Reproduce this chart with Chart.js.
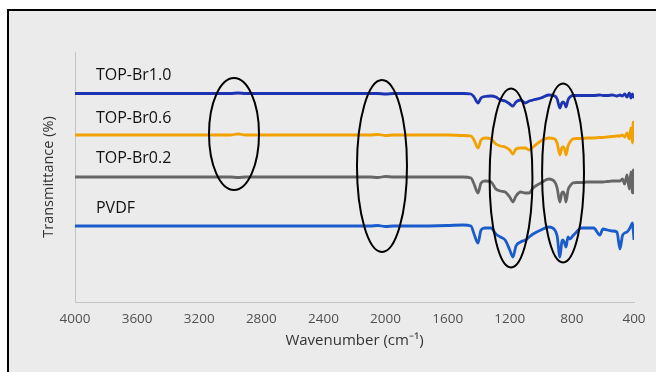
<!DOCTYPE html>
<html>
<head>
<meta charset="utf-8">
<script src="https://cdn.jsdelivr.net/npm/chart.js@4"></script>
<style>
  body { margin: 0; background: #fff; }
  #frame {
    position: absolute; left: 7px; top: 9px; width: 660px; height: 380px;
    border-left: 2px solid #000; border-top: 2px solid #000; background: #ebebeb;
  }
  #chart { position: absolute; left: 0; top: 0; }
</style>
</head>
<body>
<div id="frame"></div>
<canvas id="chart" width="656" height="372"></canvas>
<script>
// FTIR spectra, wavenumber (cm-1) vs transmittance (offset traces)
const wavenumbers = [4000, 3600, 3200, 3000, 2950, 2900, 2800, 2400, 2100, 2050,
  2000, 1950, 1800, 1600, 1500, 1450, 1430, 1405, 1385, 1360,
  1320, 1290, 1260, 1230, 1200, 1180, 1160, 1130, 1100, 1075,
  1050, 1000, 950, 910, 895, 877, 865, 857, 845, 838,
  825, 812, 795, 770, 740, 700, 660, 620, 600, 570,
  540, 510, 490, 475, 460, 445, 430, 420, 410, 405, 400];

const topBr10 = [83.4, 83.4, 83.4, 83.4, 83.6, 83.4, 83.4, 83.4, 83.4, 83.4,
  83.2, 83.4, 83.4, 83.4, 83.4, 83.2, 82.0, 79.6, 81.6, 82.2,
  82.4, 82.0, 80.8, 80.4, 79.2, 78.4, 80.0, 80.8, 79.6, 80.4,
  80.8, 81.6, 82.8, 82.4, 81.2, 77.6, 79.6, 80.0, 79.2, 78.0,
  80.8, 82.0, 82.6, 82.6, 82.6, 82.6, 82.6, 82.8, 82.6, 82.6,
  82.8, 82.4, 82.8, 82.4, 83.2, 82.0, 83.6, 81.6, 83.2, 82.0, 82.4];

const topBr06 = [66.8, 66.8, 66.8, 66.8, 67.2, 66.8, 66.8, 66.8, 66.8, 67.0,
  66.6, 66.8, 66.8, 66.8, 66.6, 66.4, 64.8, 61.6, 64.8, 65.6,
  65.2, 63.2, 62.4, 62.0, 60.8, 59.2, 61.2, 61.6, 61.6, 60.8,
  62.0, 64.4, 65.6, 65.2, 63.6, 58.8, 61.6, 62.0, 60.8, 58.8,
  62.4, 64.0, 65.2, 65.4, 65.4, 65.6, 65.6, 65.8, 65.8, 66.0,
  66.2, 66.4, 66.4, 66.8, 66.0, 67.6, 65.2, 69.6, 63.6, 72.0, 64.8];

const topBr02 = [50.0, 50.0, 50.0, 50.0, 49.8, 50.0, 50.0, 50.0, 50.0, 49.8,
  50.2, 50.0, 50.0, 50.0, 50.0, 49.6, 47.2, 43.6, 47.6, 48.4,
  48.0, 45.2, 44.4, 44.0, 42.0, 40.0, 42.4, 44.0, 43.6, 43.6,
  45.6, 47.6, 49.2, 48.0, 45.6, 40.0, 43.6, 44.0, 42.4, 40.0,
  44.8, 46.4, 47.6, 47.8, 47.8, 48.0, 48.0, 48.0, 48.0, 48.2,
  48.4, 48.4, 48.4, 49.2, 47.2, 50.8, 45.2, 52.0, 43.6, 52.8, 43.2];

const pvdf = [30.4, 30.4, 30.4, 30.4, 30.4, 30.4, 30.4, 30.4, 30.4, 30.6,
  30.2, 30.4, 30.4, 30.6, 30.8, 30.4, 27.2, 23.6, 28.8, 29.6,
  29.6, 27.2, 26.0, 24.8, 20.8, 18.0, 22.4, 24.0, 24.8, 26.0,
  27.2, 28.8, 30.0, 28.8, 26.4, 18.0, 24.0, 24.8, 23.2, 22.0,
  26.0, 25.2, 26.4, 28.0, 29.6, 29.6, 29.6, 26.8, 29.2, 28.8,
  28.4, 28.0, 21.2, 26.4, 27.6, 28.0, 29.2, 30.4, 31.6, 28.8, 24.8];

const seriesNames = ["TOP-Br1.0", "TOP-Br0.6", "TOP-Br0.2", "PVDF"];
const xTickValues = [4000, 3600, 3200, 2800, 2400, 2000, 1600, 1200, 800, 400];

// where the trace names sit (wavenumber, transmittance)
const nameAnchors = [[3865, 90.8], [3865, 73.6], [3865, 57.6], [3865, 37.6]];
// hand-drawn ellipses: centre wavenumber, centre value, half width, half height
const ellipses = [
  [2976, 67.2, 161, 22.4],
  [2023, 54.4, 161, 34.4],
  [1192, 49.6, 138, 35.8],
  [857, 51.6, 135, 35.8],
];

const colors = ["#1c33b2", "#f2a200", "#666666", "#1a5ccb"];
const values = [topBr10, topBr06, topBr02, pvdf];

const toPoints = (arr) => wavenumbers.map((x, i) => ({ x, y: arr[i] }));

const overlay = {
  id: "overlay",
  afterDatasetsDraw(chart) {
    const { ctx, scales: { x, y } } = chart;
    ctx.save();
    ctx.strokeStyle = "#000";
    ctx.lineWidth = 2;
    ellipses.forEach(([cx, cy, rw, rh]) => {
      const px = x.getPixelForValue(cx);
      const py = y.getPixelForValue(cy);
      const rx = Math.abs(x.getPixelForValue(cx + rw) - px);
      const ry = Math.abs(y.getPixelForValue(cy + rh) - py);
      ctx.beginPath();
      ctx.ellipse(px, py, rx, ry, 0, 0, Math.PI * 2);
      ctx.stroke();
    });
    ctx.fillStyle = "#111";
    ctx.font = "16px 'Open Sans'";
    ctx.textAlign = "left";
    ctx.textBaseline = "middle";
    seriesNames.forEach((name, i) => {
      const [wn, v] = nameAnchors[i];
      ctx.fillText(name, x.getPixelForValue(wn), y.getPixelForValue(v));
    });
    ctx.restore();
  },
};

new Chart(document.getElementById("chart"), {
  type: "line",
  data: {
    datasets: seriesNames.map((name, i) => ({
      label: name,
      data: toPoints(values[i]),
      borderColor: colors[i],
      borderWidth: 2.8,
      pointRadius: 0,
      cubicInterpolationMode: "monotone",
      fill: false,
    })),
  },
  options: {
    responsive: false,
    animation: false,
    devicePixelRatio: 1,
    layout: { padding: { left: 32, top: 52, right: 22, bottom: 0 } },
    plugins: { legend: { display: false }, tooltip: { enabled: false } },
    scales: {
      x: {
        type: "linear",
        min: 400,
        max: 4000,
        reverse: true,
        afterBuildTicks: (s) => { s.ticks = xTickValues.map((v) => ({ value: v })); },
        afterFit: (s) => { s.height = 70; },
        grid: { display: false, drawTicks: false },
        border: { display: true, color: "#c4c4c4", width: 1 },
        ticks: {
          padding: 9,
          color: "#505050",
          font: { family: "'Open Sans'", size: 13.5 },
          maxRotation: 0,
          autoSkip: false,
          callback: (v) => String(v),
        },
        title: {
          display: true,
          text: "Wavenumber (cm\u207B\u00B9)",
          color: "#333",
          font: { family: "'Open Sans'", size: 15 },
          padding: { top: 0, bottom: 22 },
        },
      },
      y: {
        min: 0,
        max: 100,
        afterFit: (s) => { s.width = 43; },
        grid: { display: false, drawTicks: false },
        border: { display: true, color: "#c4c4c4", width: 1 },
        ticks: { display: false },
        title: {
          display: true,
          text: "Transmittance (%)",
          color: "#333",
          font: { family: "'Open Sans'", size: 14.5 },
          padding: { top: 8, bottom: 0 },
        },
      },
    },
  },
  plugins: [overlay],
});
</script>
</body>
</html>
